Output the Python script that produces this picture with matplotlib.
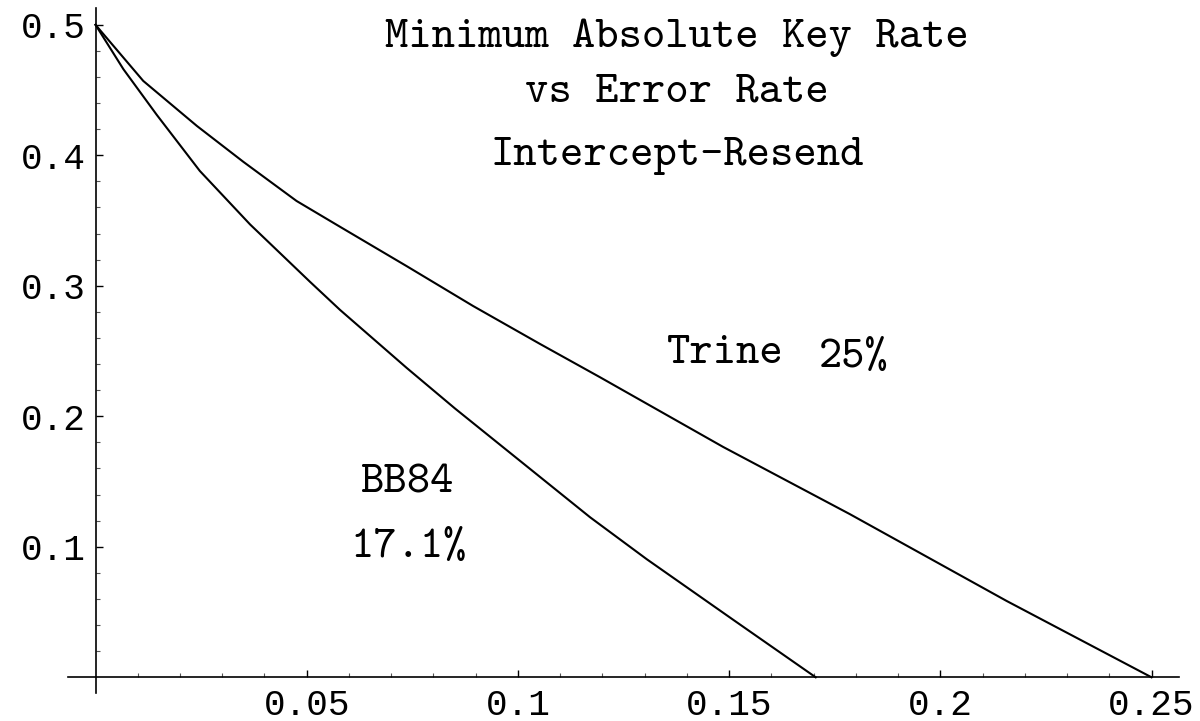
import numpy as np
import matplotlib.pyplot as plt
from matplotlib.ticker import FixedLocator

# minimum absolute key rate vs error rate, intercept-resend attack
trine_err = [0.0, 0.0113, 0.0240, 0.0350, 0.0476, 0.0579, 0.0737, 0.0894,
             0.1052, 0.1194, 0.1486, 0.1786, 0.2157, 0.25]
trine_rate = [0.5, 0.457, 0.4225, 0.395, 0.3650, 0.3452, 0.3150, 0.2845,
              0.2555, 0.2300, 0.1765, 0.1250, 0.0585, 0.0]

bb84_err = [0.0, 0.0066, 0.0145, 0.0247, 0.0366, 0.0508, 0.0579, 0.0737,
            0.0851, 0.1171, 0.1305, 0.1510, 0.1705]
bb84_rate = [0.5, 0.4660, 0.4310, 0.3880, 0.3470, 0.3030, 0.2815, 0.2370,
             0.2060, 0.1226, 0.0905, 0.0440, 0.0]

xticks = [0.05, 0.1, 0.15, 0.2, 0.25]
yticks = [0.1, 0.2, 0.3, 0.4, 0.5]
xminor = [0.01, 0.02, 0.03, 0.04, 0.06, 0.07, 0.08, 0.09, 0.11, 0.12, 0.13,
          0.14, 0.16, 0.17, 0.18, 0.19, 0.21, 0.22, 0.23, 0.24]
yminor = [0.02, 0.04, 0.06, 0.08, 0.12, 0.14, 0.16, 0.18, 0.22, 0.24, 0.26,
          0.28, 0.32, 0.34, 0.36, 0.38, 0.42, 0.44, 0.46, 0.48]

title_lines = ["Minimum Absolute Key Rate", "vs Error Rate", "Intercept-Resend"]

textfont = "cmtt10"
tickfont = "Liberation Mono"
tsize = 32

fig = plt.figure(figsize=(12, 7.21), dpi=100)
ax = fig.add_axes([0, 0, 1, 1])
ax.set_xlim(-0.02261, 0.26148)
ax.set_ylim(-0.03349, 0.5190)

ax.plot(trine_err, trine_rate, color="black", lw=1.5)
ax.plot(bb84_err, bb84_rate, color="black", lw=1.5)

# axes crossing at the origin, no frame
for s in ["top", "right"]:
    ax.spines[s].set_visible(False)
ax.spines["left"].set_position(("data", 0))
ax.spines["bottom"].set_position(("data", 0))
ax.spines["left"].set_bounds(-0.012, 0.5126)
ax.spines["bottom"].set_bounds(-0.0065, 0.2564)
for s in ["left", "bottom"]:
    ax.spines[s].set_linewidth(1.2)

ax.xaxis.set_major_locator(FixedLocator(xticks))
ax.yaxis.set_major_locator(FixedLocator(yticks))
ax.xaxis.set_minor_locator(FixedLocator(xminor))
ax.yaxis.set_minor_locator(FixedLocator(yminor))
ax.set_xticklabels([f"{v:g}" for v in xticks])
ax.set_yticklabels([f"{v:g}" for v in yticks])
ax.tick_params(which="both", direction="in", color="black")
ax.tick_params(which="major", length=5, width=1.0)
ax.tick_params(which="minor", length=3.2, width=0.8, color="#555555")
ax.tick_params(axis="x", which="major", pad=8, labelsize=26)
ax.tick_params(axis="y", which="major", pad=7, labelsize=26)
for lab in ax.get_xticklabels() + ax.get_yticklabels():
    lab.set_family(tickfont)

ax.text(0.1377, 0.4832, title_lines[0], ha="center", va="baseline",
        family=textfont, fontsize=tsize)
ax.text(0.1377, 0.4411, title_lines[1], ha="center", va="baseline",
        family=textfont, fontsize=tsize)
ax.text(0.1377, 0.3926, title_lines[2], ha="center", va="baseline",
        family=textfont, fontsize=tsize)

ax.text(0.1352, 0.2411, "Trine", ha="left", va="baseline", family=textfont, fontsize=tsize)
ax.text(0.1712, 0.2375, "25%", ha="left", va="baseline", family=textfont, fontsize=tsize)
ax.text(0.0627, 0.1415, "BB84", ha="left", va="baseline", family=textfont, fontsize=tsize)
ax.text(0.0604, 0.0920, "17.1%", ha="left", va="baseline", family=textfont, fontsize=tsize)

fig.savefig("out.png", dpi=100)
